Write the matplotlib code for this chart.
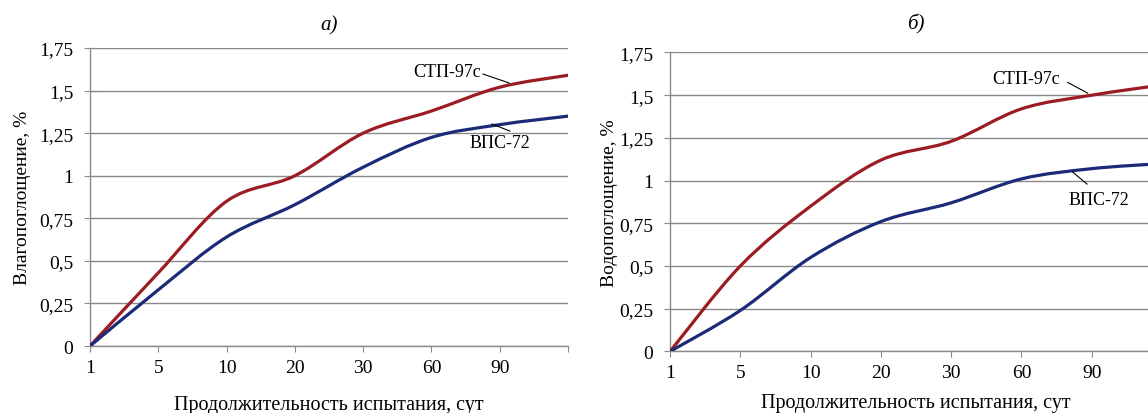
import matplotlib
matplotlib.use("Agg")
import matplotlib.pyplot as plt
from matplotlib.path import Path
from matplotlib.patches import PathPatch
import numpy as np

plt.rcParams['font.family'] = ['Liberation Serif', 'DejaVu Serif']

# ---- data ----
days = ['1', '5', '10', '20', '30', '60', '90', '']
yticks = [0, 0.25, 0.5, 0.75, 1.0, 1.25, 1.5, 1.75]
ytick_labels = ['0', '0,25', '0,5', '0,75', '1', '1,25', '1,5', '1,75']

a_stp = [0.0, 0.43, 0.85, 1.00, 1.25, 1.38, 1.52, 1.59]
a_vps = [0.0, 0.33, 0.64, 0.83, 1.05, 1.225, 1.30, 1.35]
b_stp = [0.0, 0.50, 0.85, 1.12, 1.23, 1.42, 1.50, 1.56]
b_vps = [0.0, 0.24, 0.55, 0.76, 0.87, 1.01, 1.07, 1.10]

RED = '#9b1c22'
BLUE = '#1c2a78'
GRID = '#8a8a8a'


def smooth_path(ys):
    """Excel-style smoothed line (Catmull-Rom as cubic Bezier) in data coords."""
    xs = np.arange(len(ys), dtype=float)
    pts = np.column_stack([xs, np.asarray(ys, float)])
    n = len(pts)
    verts = [tuple(pts[0])]
    codes = [Path.MOVETO]
    for i in range(n - 1):
        p0 = pts[i - 1] if i > 0 else pts[i]
        p1 = pts[i]
        p2 = pts[i + 1]
        p3 = pts[i + 2] if i + 2 < n else pts[i + 1]
        c1 = p1 + (p2 - p0) / 6.0
        c2 = p2 - (p3 - p1) / 6.0
        verts += [tuple(c1), tuple(c2), tuple(p2)]
        codes += [Path.CURVE4] * 3
    return Path(verts, codes)


def style_axes(ax, ylabel, title, xlabelpad, ylabelpad, titlepad):
    ax.set_xlim(0, len(days) - 1)
    ax.set_ylim(0, 1.75)
    ax.set_yticks(yticks)
    ax.set_yticklabels(ytick_labels, fontsize=14)
    ax.set_xticks(range(len(days)))
    ax.set_xticklabels(days, fontsize=14)
    ax.grid(axis='y', color=GRID, lw=1.0)
    ax.set_axisbelow(True)
    for s in ['top', 'right']:
        ax.spines[s].set_visible(False)
    for s in ['left', 'bottom']:
        ax.spines[s].set_color(GRID)
        ax.spines[s].set_linewidth(1.0)
    ax.tick_params(axis='x', direction='out', length=4, color=GRID, pad=5)
    ax.tick_params(axis='y', direction='inout', length=8, color=GRID, pad=8)
    ax.set_ylabel(ylabel, fontsize=14, labelpad=ylabelpad)
    ax.set_xlabel('Продолжительность испытания, сут', fontsize=14.5, labelpad=xlabelpad)
    ax.set_title(title, fontsize=15, style='italic', pad=titlepad)


def draw_series(ax, ys, color):
    ax.add_patch(PathPatch(smooth_path(ys), fill=False, edgecolor=color,
                           lw=2.3, capstyle='round', joinstyle='round', zorder=3))


def label(ax, text, xy_text, p_from, p_to):
    ax.plot([p_from[0], p_to[0]], [p_from[1], p_to[1]], color='black', lw=0.8,
            zorder=4, clip_on=False)
    ax.text(xy_text[0], xy_text[1], text, fontsize=13, ha='center', va='center',
            zorder=5)


fig = plt.figure(figsize=(11.48, 4.14), dpi=100)

axA = fig.add_axes([0.0784, 0.1618, 0.4164, 0.7198])
axB = fig.add_axes([0.5836, 0.1486, 0.4286, 0.7222])

style_axes(axA, 'Влагопоглощение, %', 'а)', xlabelpad=14, ylabelpad=6, titlepad=13)
style_axes(axB, 'Водопоглощение, %', 'б)', xlabelpad=9, ylabelpad=1, titlepad=17)

draw_series(axA, a_stp, RED)
draw_series(axA, a_vps, BLUE)
draw_series(axB, b_stp, RED)
draw_series(axB, b_vps, BLUE)

label(axA, 'СТП-97с', (5.23, 1.615), (5.755, 1.597), (6.135, 1.545))
label(axA, 'ВПС-72', (6.0, 1.198), (5.886, 1.304), (6.149, 1.262))
label(axB, 'СТП-97с', (5.07, 1.595), (5.657, 1.575), (5.943, 1.512))
label(axB, 'ВПС-72', (6.10, 0.892), (5.724, 1.052), (5.933, 0.980))

fig.savefig('out.png', dpi=100)
